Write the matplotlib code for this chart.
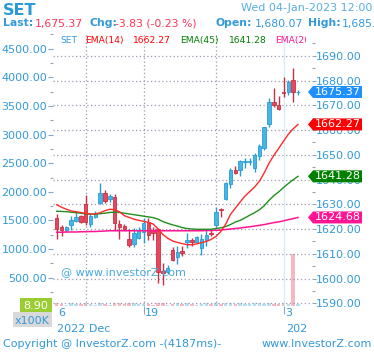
import matplotlib
matplotlib.use("Agg")
import matplotlib.pyplot as plt
from matplotlib.patches import Rectangle, Polygon
from matplotlib.transforms import Bbox, TransformedBbox
import numpy as np

# candles (morning / afternoon sessions), Dec 6 2022 -> Jan 4 2023
opens = [1624.3, 1620.7, 1619.6, 1621.6, 1623.2, 1625.3, 1630.1, 1622.0, 1624.7, 1630.4,
         1634.7, 1632.0, 1632.8, 1622.0, 1621.2, 1616.0, 1614.0, 1616.5, 1619.0, 1623.0,
         1619.6, 1619.9, 1603.2, 1602.8, 1611.5, 1608.6, 1611.1, 1614.6, 1615.6, 1614.9,
         1612.2, 1615.6, 1618.5, 1621.6, 1628.2, 1632.0, 1638.1, 1643.9, 1643.9, 1647.0,
         1647.2, 1644.5, 1649.6, 1652.8, 1662.3, 1671.2, 1670.1, 1675.4, 1675.2, 1680.07,
         1675.2]
highs = [1625.9, 1621.5, 1621.2, 1625.3, 1627.0, 1625.5, 1633.7, 1625.9, 1627.3, 1638.5,
         1635.9, 1634.3, 1634.3, 1623.5, 1622.0, 1620.0, 1620.6, 1621.0, 1624.3, 1624.6,
         1621.0, 1620.3, 1606.2, 1605.3, 1612.7, 1613.3, 1613.0, 1618.5, 1616.5, 1617.3,
         1618.0, 1619.7, 1620.0, 1629.0, 1628.4, 1638.8, 1644.6, 1645.4, 1647.9, 1648.6,
         1648.7, 1650.6, 1654.2, 1661.3, 1672.8, 1677.1, 1673.7, 1681.5, 1680.2, 1684.9,
         1676.0]
lows = [1615.8, 1617.0, 1619.0, 1619.6, 1623.0, 1622.5, 1621.6, 1620.9, 1624.3, 1630.1,
        1630.6, 1631.0, 1619.6, 1616.0, 1619.5, 1612.9, 1612.9, 1615.8, 1614.2, 1615.6,
        1615.6, 1598.0, 1597.4, 1602.0, 1607.0, 1606.0, 1609.0, 1612.2, 1613.0, 1614.5,
        1609.7, 1613.0, 1617.0, 1621.0, 1625.0, 1631.8, 1636.5, 1642.2, 1641.5, 1644.5,
        1645.9, 1642.9, 1647.9, 1651.9, 1661.3, 1669.4, 1668.1, 1673.4, 1674.1, 1671.4,
        1674.0]
closes = [1619.9, 1619.7, 1620.7, 1623.6, 1624.7, 1623.0, 1623.0, 1625.3, 1625.9, 1634.7,
          1631.4, 1633.3, 1622.3, 1621.0, 1620.0, 1613.5, 1618.3, 1619.2, 1622.3, 1617.6,
          1618.3, 1602.8, 1602.1, 1604.4, 1607.5, 1610.8, 1610.2, 1615.6, 1614.6, 1616.7,
          1615.8, 1617.6, 1618.0, 1627.0, 1627.6, 1638.5, 1643.9, 1642.7, 1647.5, 1647.5,
          1647.5, 1649.9, 1653.5, 1661.1, 1671.2, 1670.1, 1668.4, 1675.1, 1679.5, 1675.2,
          1675.37]
volumes = [0.55, 0.3, 0.15, 0.5, 0.3, 0.3, 0.55, 0.3, 0.25, 0.55, 0.3, 0.25, 0.6, 0.55, 0.3,
           0.55, 0.5, 0.3, 0.35, 0.3, 0.25, 0.6, 0.5, 0.25, 0.3, 0.5, 0.3, 0.5, 0.3, 0.2,
           0.4, 0.45, 0.3, 0.5, 0.3, 0.5, 0.45, 0.3, 0.5, 0.3, 0.3, 0.5, 0.45, 0.4, 0.55,
           0.35, 0.3, 0.5, 0.4, 8.9, 0.3]
ema14 = [1629.8, 1628.8, 1628.0, 1627.3, 1627.0, 1626.7, 1626.3, 1626.1, 1626.1, 1626.6,
         1627.4, 1628.0, 1627.8, 1627.0, 1625.4, 1624.7, 1624.0, 1623.5, 1623.1, 1622.7,
         1622.0, 1620.0, 1617.8, 1616.3, 1615.2, 1614.6, 1614.1, 1613.7, 1613.6, 1614.0,
         1614.5, 1615.0, 1615.8, 1617.0, 1619.0, 1621.9, 1625.9, 1628.4, 1630.9, 1633.3,
         1635.1, 1637.0, 1639.3, 1642.7, 1646.6, 1649.8, 1652.6, 1655.5, 1658.3, 1660.5,
         1662.27]
ema45 = [1627.2, 1627.1, 1627.0, 1626.8, 1626.6, 1626.4, 1626.1, 1626.0, 1626.0, 1626.2,
         1626.4, 1626.7, 1626.8, 1626.7, 1626.4, 1626.1, 1625.8, 1625.5, 1625.2, 1624.9,
         1624.6, 1624.0, 1623.0, 1622.3, 1621.7, 1621.2, 1620.6, 1620.2, 1620.0, 1619.9,
         1619.9, 1619.9, 1619.9, 1620.2, 1620.5, 1621.0, 1621.8, 1622.8, 1623.5, 1624.5,
         1625.6, 1626.6, 1627.8, 1629.4, 1631.6, 1633.5, 1635.0, 1636.8, 1638.4, 1639.9,
         1641.28]
ema200 = [1618.7, 1618.7, 1618.8, 1618.8, 1618.8, 1618.9, 1618.9, 1619.0, 1619.0, 1619.1,
          1619.2, 1619.3, 1619.3, 1619.3, 1619.3, 1619.3, 1619.3, 1619.3, 1619.3, 1619.3,
          1619.3, 1619.3, 1619.3, 1619.3, 1619.3, 1619.3, 1619.3, 1619.3, 1619.3, 1619.3,
          1619.3, 1619.4, 1619.4, 1619.5, 1619.6, 1619.8, 1620.0, 1620.2, 1620.4, 1620.7,
          1620.9, 1621.2, 1621.5, 1621.8, 1622.2, 1622.6, 1622.9, 1623.3, 1623.8, 1624.2,
          1624.68]
day_ticks = [0, 18, 47]
day_labels = ["6", "19", "3"]
week_lines = [6, 18, 33]

BLUE = "#3399d9"
W, H = 374, 353

fig = plt.figure(figsize=(W / 100, H / 100), dpi=100)
ax = fig.add_axes([53 / W, 1 - 306 / H, 259 / W, 272 / H])
ax3 = ax.twinx()   # volume
ax2 = ax.twinx()   # price

n = len(closes)
x = np.arange(n)
up = np.array(closes) >= np.array(opens)

# volume
vcol = np.where(up, "#b5e0f3", "#f6b9c4")
ax3.bar(x, volumes, width=0.72, color=vcol, zorder=1)
ax3.set_ylim(0, 47)
ax3.set_yticks([])

# grid
for w in week_lines:
    ax2.axvline(w, color="#9a9ab2", lw=0.9, ls=(0, (1, 2)), zorder=0)
ax2.axvline(47, color="#d8ecf8", lw=1, zorder=0)

# candles
body_c = np.where(up, "#45b6e6", "#e5485c")
edge_c = np.where(up, "#2a9cd4", "#cc2f44")
ax2.vlines(x, lows, highs, colors=edge_c, lw=1, zorder=3)
bottoms = np.minimum(opens, closes)
heights = np.maximum(np.abs(np.array(closes) - np.array(opens)), 0.35)
ax2.bar(x, heights, bottom=bottoms, width=0.72, color=body_c, edgecolor=edge_c,
        lw=0.6, zorder=4)

# EMAs
ax2.plot(x, ema200, color="#ff1493", lw=1.1, zorder=5)
ax2.plot(x, ema45, color="#1f8f1f", lw=1, zorder=5)
ax2.plot(x, ema14, color="#ff2a2a", lw=1, zorder=5)

ax.set_xlim(-0.77, 52.9)
ax2.set_ylim(1588.9, 1698.8)
ax.set_ylim(6, 4756)

for a in (ax, ax2, ax3):
    for s in a.spines.values():
        s.set_visible(False)

# left axis
ax.set_yticks(np.arange(500, 4501, 500))
ax.set_yticks(np.arange(250, 4751, 500), minor=True)
ax.set_yticklabels([f"{v:.2f}" for v in np.arange(500, 4501, 500)])
ax.tick_params(axis="y", which="major", length=3.6, width=0.8, color="#8aa4c8",
               labelsize=8, labelcolor=BLUE, pad=0.5)
ax.tick_params(axis="y", which="minor", length=2, width=0.8, color="#a0a0b0")

# right axis
rt = np.arange(1590, 1691, 10)
ax2.set_yticks(rt)
ax2.set_yticks(np.arange(1595, 1696, 10), minor=True)
ax2.set_yticklabels([f"{v:.2f}" for v in rt])
ax2.tick_params(axis="y", which="major", length=2.6, width=0.8, color="#8aa4c8",
                labelsize=8, labelcolor=BLUE, pad=0.5)
ax2.tick_params(axis="y", which="minor", length=2.2, width=0.8, color="#a0a0b0")
ax2.grid(axis="y", which="major", color="#9a9ab2", lw=0.9, ls=(0, (1, 2)), zorder=0)

# x axis
ax.set_xticks(day_ticks)
ax.set_xticklabels([])
ax.tick_params(axis="x", length=5.8, width=0.8, color="#8aa4c8")
ax.xaxis.get_major_ticks()[0].tick1line.set_visible(False)
ax2.tick_params(axis="x", length=0)
ax3.tick_params(axis="x", length=0)
for d, lab in zip(day_ticks, day_labels):
    ax.annotate(lab, (d, 0), xycoords=("data", "axes fraction"), xytext=(1, -7.5),
                textcoords="offset points", ha="left", va="baseline",
                fontsize=8, color=BLUE)


def fx(px):
    return px / W


def fy(py):
    return 1 - py / H


clip_box = TransformedBbox(Bbox([[0, 0], [306 / W, 1]]), fig.transFigure)
edge_box = TransformedBbox(Bbox([[0, 0], [1, 1]]), fig.transFigure)

fig.text(fx(57), fy(332.5), "2022 Dec", fontsize=8, color=BLUE, va="baseline")
t = fig.text(fx(286), fy(332.5), "2023", fontsize=8, color=BLUE, va="baseline")
t.set_clip_box(clip_box)
t.set_clip_on(True)

# header
fig.text(fx(3), fy(15), "SET", fontsize=11.5, fontweight="bold", color="#2b9bd8",
         va="baseline")
fig.text(fx(372), fy(10.7), "Wed 04-Jan-2023 12:00", fontsize=8, color="#5aaee3",
         ha="right", va="baseline")
line2 = [(3, "Last:", True, BLUE), (35, "1,675.37", False, "#ff3355"),
         (89, "Chg:", True, BLUE), (115, "-3.83 (-0.23 %)", False, "#ff3355"),
         (215, "Open:", True, BLUE), (255, "1,680.07", False, BLUE),
         (308, "High:", True, BLUE), (342, "1,685.00", False, BLUE)]
for px, s, b, c in line2:
    t = fig.text(fx(px), fy(26.5), s, fontsize=7.8, color=c, va="baseline",
                 fontweight="bold" if b else "normal")
    t.set_clip_box(edge_box)
    t.set_clip_on(True)

# legend row
leg = [(60, "SET", BLUE), (85, "EMA(14)", "#ff0000"), (133, "1662.27", "#ff0000"),
       (180, "EMA(45)", "#008000"), (229, "1641.28", "#008000"),
       (275, "EMA(200)", "#ff1493")]
for px, s, c in leg:
    t = fig.text(fx(px), fy(43), s, fontsize=6.6, color=c, va="baseline")
    t.set_clip_box(clip_box)
    t.set_clip_on(True)

# watermark
fig.text(fx(61), fy(275), "@ www.investorZ.com", fontsize=8, color="#4aa8e0",
         va="baseline")

# footer
fig.text(fx(3), fy(347), "Copyright @ InvestorZ.com -(4187ms)-", fontsize=8,
         color=BLUE, va="baseline")
fig.text(fx(372), fy(347), "www.InvestorZ.com", fontsize=8, color=BLUE,
         ha="right", va="baseline")

# volume scale boxes
fig.add_artist(Rectangle((fx(20), fy(312)), fx(32), 14 / H, transform=fig.transFigure,
                         color="#9acd32", lw=0))
fig.text(fx(48.5), fy(309), "8.90", fontsize=8, color="white", ha="right",
         va="baseline")
fig.add_artist(Rectangle((fx(13), fy(327)), fx(39), 15 / H, transform=fig.transFigure,
                         color="#d9d9d9", lw=0))
fig.text(fx(50), fy(324), "x100K", fontsize=8, color=BLUE, ha="right", va="baseline")

# price tags on right axis
tags = [(closes[-1], "#1e90ff"), (ema14[-1], "#ff0000"), (ema45[-1], "#008000"),
        (ema200[-1], "#ff1493")]
inv = fig.transFigure.inverted()
for v, c in tags:
    yd = ax2.transData.transform((0, v))[1]
    yc = inv.transform((0, yd))[1]
    hh = 6 / H
    poly = Polygon([(fx(308), yc), (fx(313), yc + hh), (fx(362), yc + hh),
                    (fx(362), yc - hh), (fx(313), yc - hh)], closed=True,
                   transform=fig.transFigure, color=c, lw=0)
    fig.add_artist(poly)
    fig.text(fx(337.5), yc, f"{v:.2f}", fontsize=8, color="white", ha="center",
             va="center")

fig.savefig("out.png", dpi=100)
